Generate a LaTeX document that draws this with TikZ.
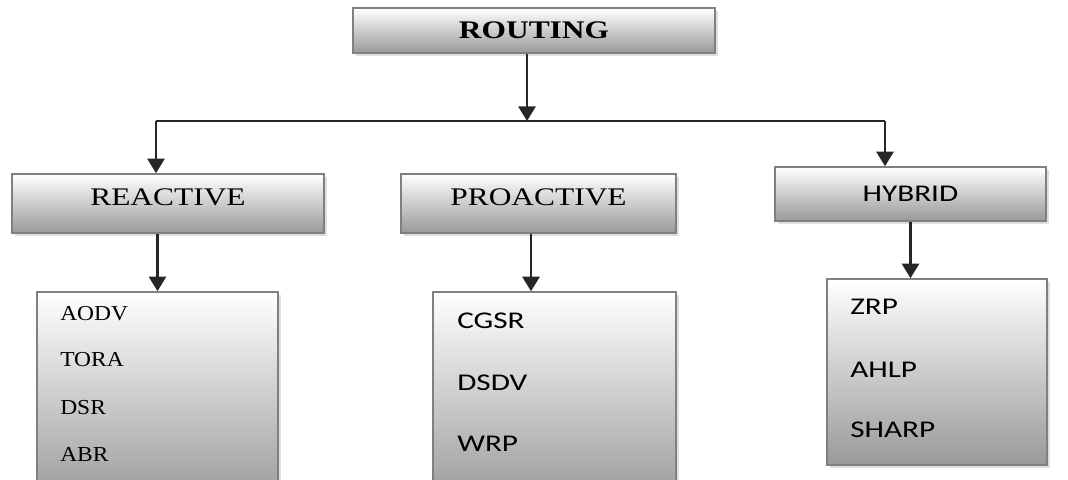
\documentclass[tikz,border=0pt]{standalone}
\usepackage{fontspec}
\usepackage{tikz}
\usetikzlibrary{arrows.meta}
\usetikzlibrary{shadows}
\newfontfamily\headfont{Liberation Serif}[FakeStretch=1.24]
\newfontfamily\listfont{Liberation Serif}[FakeStretch=1.1]
\newfontfamily\calfont{Carlito}[FakeStretch=1.3]

\begin{document}
\begin{tikzpicture}[x=0.75pt,y=-0.75pt,
        box/.style={draw=black!50,line width=1.2pt,top color=white,bottom color=black!40,
            drop shadow={shadow xshift=2pt,shadow yshift=-2pt,opacity=0.25},inner sep=0pt},
        conn/.style={line width=1.6pt,draw=black!85},
        arr/.style={conn,-{Triangle[width=13pt,length=11pt]}},
        item/.style={anchor=west,inner sep=0pt}]
        \useasboundingbox (0,0) rectangle (1068,479);
        \clip (0,0) rectangle (1068,479);
        % top level
        \node[box,minimum width=271.5pt,minimum height=33.75pt] (routing) at (534,30.5)
            {\headfont\fontsize{19}{22}\selectfont\bfseries ROUTING};
        % the three families
        \node[box,minimum width=234pt,minimum height=44.25pt,text depth=10pt] (reactive) at (168,203.5)
            {\headfont\fontsize{19}{22}\selectfont REACTIVE};
        \node[box,minimum width=206.25pt,minimum height=44.25pt,text depth=10pt] (proactive) at (538.5,203.5)
            {\headfont\fontsize{19}{22}\selectfont PROACTIVE};
        \node[box,minimum width=203.25pt,minimum height=40.5pt] (hybrid) at (910.5,194)
            {\calfont\fontsize{18}{21}\selectfont HYBRID};
        % protocol lists
        \node[box,minimum width=180.75pt,minimum height=159.75pt] (reactlist) at (157.5,398.5) {};
        \node[box,minimum width=182.25pt,minimum height=159.75pt] (proactlist) at (554.5,398.5) {};
        \node[box,minimum width=165pt,minimum height=139.5pt] (hybridlist) at (937,372) {};
        \node[item] (aodv) at (60,313.5) {\listfont\fontsize{16}{19}\selectfont AODV};
        \node[item] (tora) at (60,360) {\listfont\fontsize{16}{19}\selectfont TORA};
        \node[item] (dsr) at (60,408) {\listfont\fontsize{16}{19}\selectfont DSR};
        \node[item] (abr) at (60,454) {\listfont\fontsize{16}{19}\selectfont ABR};
        \node[item] (cgsr) at (457,321) {\calfont\fontsize{18}{21}\selectfont CGSR};
        \node[item] (dsdv) at (457,383) {\calfont\fontsize{18}{21}\selectfont DSDV};
        \node[item] (wrp) at (457,444) {\calfont\fontsize{18}{21}\selectfont WRP};
        \node[item] (zrp) at (850,307) {\calfont\fontsize{18}{21}\selectfont ZRP};
        \node[item] (ahlp) at (850,370) {\calfont\fontsize{18}{21}\selectfont AHLP};
        \node[item] (sharp) at (850,430) {\calfont\fontsize{18}{21}\selectfont SHARP};
        % connectors
        \coordinate (split) at (527,121);
        \coordinate (lt) at (156,121);
        \coordinate (rt) at (885,121);
        \coordinate (pdrop) at (531,233);
        \draw[arr] (split |- routing.south) -- (split);
        \draw[conn] (lt) -- (rt);
        \draw[arr] (lt) -- (lt |- reactive.north);
        \draw[arr] (rt) -- (rt |- hybrid.north);
        \draw[arr] (reactlist.north |- reactive.south) -- (reactlist.north);
        \draw[arr] (pdrop |- proactive.south) -- (pdrop |- proactlist.north);
        \draw[arr] (hybrid.south) -- (hybrid.south |- hybridlist.north);
    \end{tikzpicture}
\end{document}
